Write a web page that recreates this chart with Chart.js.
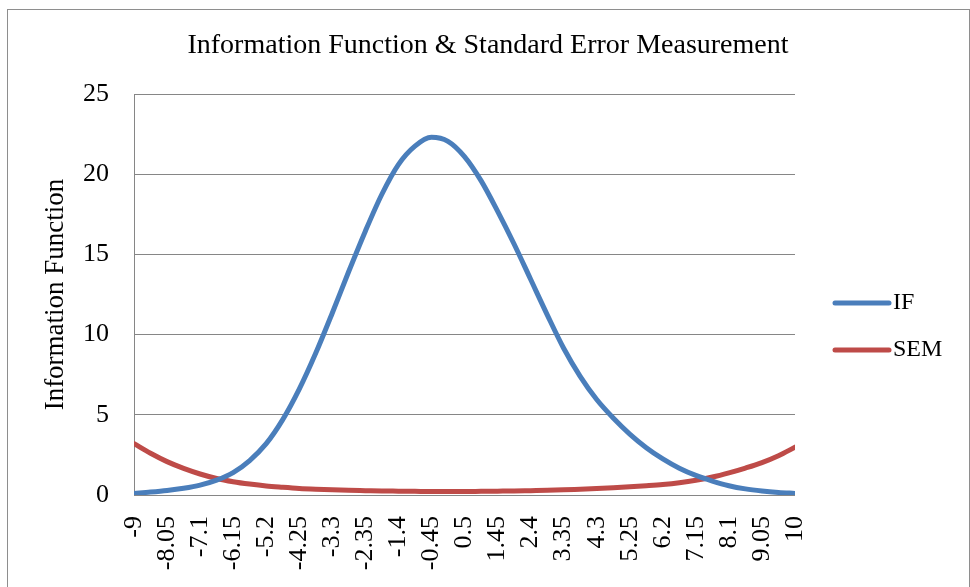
<!DOCTYPE html>
<html>
<head>
<meta charset="utf-8">
<script src="https://cdn.jsdelivr.net/npm/chart.js@4"></script>
<style>
  html, body { margin: 0; padding: 0; background: #ffffff; }
  #wrap { width: 970px; height: 587px; }
</style>
</head>
<body>
<div id="wrap"><canvas id="c" width="970" height="587"></canvas></div>
<script>
// ---- data ----
const theta = [-9, -8.525, -8.05, -7.575, -7.1, -6.625, -6.15, -5.675, -5.2, -4.725,
  -4.25, -3.775, -3.3, -2.825, -2.35, -1.875, -1.4, -0.925, -0.45, 0.025,
  0.5, 0.975, 1.45, 1.925, 2.4, 2.875, 3.35, 3.825, 4.3, 4.775,
  5.25, 5.725, 6.2, 6.675, 7.15, 7.625, 8.1, 8.575, 9.05, 9.525, 10];
const ifValues = [0.1, 0.18, 0.28, 0.42, 0.62, 0.93, 1.4, 2.15, 3.2, 4.7,
  6.6, 8.85, 11.35, 13.95, 16.45, 18.75, 20.6, 21.75, 22.3, 22.05,
  21.1, 19.6, 17.7, 15.65, 13.45, 11.25, 9.15, 7.4, 5.95, 4.8,
  3.8, 2.95, 2.25, 1.67, 1.22, 0.87, 0.58, 0.38, 0.25, 0.16, 0.1];
const semValues = [3.2, 2.6, 2.08, 1.66, 1.31, 1.03, 0.83, 0.68, 0.56, 0.48,
  0.41, 0.36, 0.32, 0.29, 0.27, 0.25, 0.24, 0.23, 0.22, 0.22,
  0.22, 0.23, 0.24, 0.25, 0.27, 0.29, 0.32, 0.36, 0.4, 0.45,
  0.51, 0.58, 0.66, 0.77, 0.92, 1.12, 1.38, 1.68, 2.02, 2.45, 2.98];
const xTickLabels = [-9, -8.05, -7.1, -6.15, -5.2, -4.25, -3.3, -2.35, -1.4, -0.45,
  0.5, 1.45, 2.4, 3.35, 4.3, 5.25, 6.2, 7.15, 8.1, 9.05, 10];
const seriesNames = ['IF', 'SEM'];
const seriesColors = ['#4A7EBB', '#BE4B48'];
const chartTitle = 'Information Function & Standard Error Measurement';
const yTitle = 'Information Function';

const SERIF = "'Liberation Serif', 'Times New Roman', serif";

function pts(ys) { return theta.map((t, i) => ({ x: t, y: ys[i] })); }

const frame = {
  id: 'frame',
  beforeDraw(chart) {
    const ctx = chart.ctx;
    ctx.save();
    ctx.fillStyle = '#ffffff';
    ctx.fillRect(0, 0, chart.width, chart.height);
    ctx.strokeStyle = '#8e8e8e';
    ctx.lineWidth = 1;
    ctx.strokeRect(7.5, 9.5, 962, 600);
    ctx.restore();
  }
};

const sideLegend = {
  id: 'sideLegend',
  afterDraw(chart) {
    const ctx = chart.ctx;
    const a = chart.chartArea;
    ctx.save();
    ctx.font = "24px " + SERIF;
    ctx.textBaseline = 'middle';
    ctx.textAlign = 'left';
    chart.data.datasets.forEach((ds, i) => {
      const y = a.top + 209 + i * 47;
      ctx.strokeStyle = ds.borderColor;
      ctx.lineWidth = 5;
      ctx.lineCap = 'round';
      ctx.beginPath();
      ctx.moveTo(a.right + 40, y);
      ctx.lineTo(a.right + 94, y);
      ctx.stroke();
      ctx.fillStyle = '#000000';
      ctx.fillText(ds.label, a.right + 98, y);
    });
    ctx.restore();
  }
};

new Chart(document.getElementById('c'), {
  type: 'line',
  data: {
    datasets: [
      { label: seriesNames[0], data: pts(ifValues), borderColor: seriesColors[0], backgroundColor: seriesColors[0],
        borderWidth: 5, pointRadius: 0, cubicInterpolationMode: 'monotone', borderCapStyle: 'round', borderJoinStyle: 'round', fill: false },
      { label: seriesNames[1], data: pts(semValues), borderColor: seriesColors[1], backgroundColor: seriesColors[1],
        borderWidth: 5, pointRadius: 0, cubicInterpolationMode: 'monotone', borderCapStyle: 'round', borderJoinStyle: 'round', fill: false }
    ]
  },
  options: {
    responsive: false,
    animation: false,
    devicePixelRatio: 1,
    layout: { padding: { left: 6, right: 0, top: 0, bottom: 0 } },
    plugins: {
      legend: { display: false },
      tooltip: { enabled: false },
      title: {
        display: true,
        text: chartTitle,
        color: '#000000',
        font: { family: SERIF, size: 28, weight: 'normal', lineHeight: 1.2 },
        padding: { top: 29.2, bottom: 31.2 }
      }
    },
    scales: {
      x: {
        type: 'linear',
        min: -9,
        max: 10,
        afterBuildTicks(scale) { scale.ticks = xTickLabels.map(v => ({ value: v })); },
        afterFit(scale) { scale.height = 92; },
        grid: { display: false, drawTicks: false },
        border: { display: false },
        ticks: {
          autoSkip: false,
          maxRotation: 90,
          minRotation: 90,
          padding: 21,
          color: '#000000',
          font: { family: SERIF, size: 26 },
          callback: (v) => String(v)
        }
      },
      y: {
        min: 0,
        max: 25,
        afterFit(scale) { scale.width = 128; },
        grid: { color: '#868686', lineWidth: 1, drawTicks: false },
        border: { display: true, color: '#868686', width: 1 },
        ticks: {
          stepSize: 5,
          padding: 25,
          color: '#000000',
          font: { family: SERIF, size: 26 }
        },
        title: {
          display: true,
          text: yTitle,
          color: '#000000',
          font: { family: SERIF, size: 27, weight: 'normal', lineHeight: 1.2 },
          padding: { top: 33.8, bottom: 0 }
        }
      },
      yRight: {
        type: 'linear',
        position: 'right',
        display: true,
        afterFit(scale) { scale.width = 175; },
        grid: { display: false, drawTicks: false },
        border: { display: false },
        ticks: { display: false }
      }
    }
  },
  plugins: [frame, sideLegend]
});
</script>
</body>
</html>
